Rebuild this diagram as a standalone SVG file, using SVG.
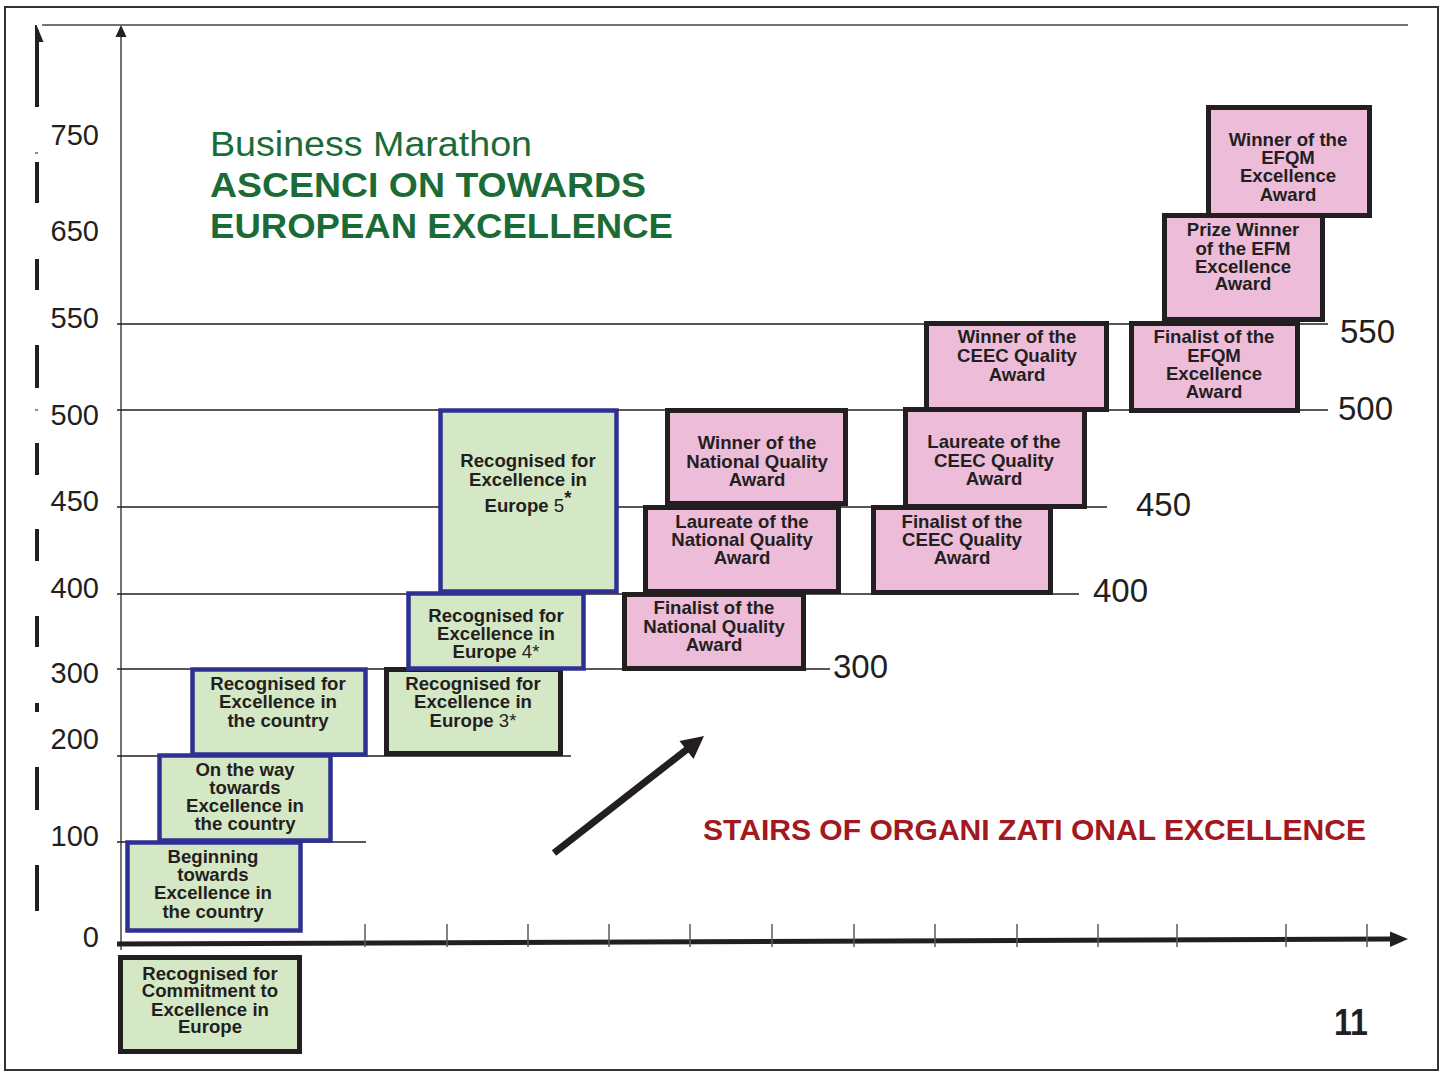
<svg xmlns="http://www.w3.org/2000/svg" width="1448" height="1072" viewBox="0 0 1448 1072">
<style>
.bx{font-family:"Liberation Sans",Arial,sans-serif;font-weight:bold;font-size:18.6px;fill:#231F20;text-anchor:middle}
.rg{font-weight:normal}
.ax{font-family:"Liberation Sans",Arial,sans-serif;font-size:29px;fill:#231F20}
.axr{font-size:33px}
.axl{text-anchor:end}
.grn{fill:#D5E8C6}
.pnk{fill:#ECBCD9}
.blue{stroke:#2E3192;stroke-width:4.5}
.blk{stroke:#231F20;stroke-width:5}
.grid{stroke:#231F20;stroke-width:1.5;fill:none}
.tick{stroke:#5A5A5A;stroke-width:1.5}
.dash{stroke:#231F20;stroke-width:4}
.ttl{font-family:"Liberation Sans",Arial,sans-serif;fill:#1B6B37}
</style>
<rect x="0" y="0" width="1448" height="1072" fill="#FFFFFF"/>
<rect x="5" y="7" width="1433" height="1063" fill="none" stroke="#333333" stroke-width="2"/>

<g id="axes">
  <line x1="42" y1="25" x2="1408" y2="25" stroke="#444444" stroke-width="1.5"/>
  <line x1="121" y1="35" x2="121" y2="950" stroke="#444444" stroke-width="1.5"/>
  <polygon points="121,25 115.5,37 126.5,37" fill="#231F20"/>
  <polygon points="35,25 36.5,25 43.5,42 35,42" fill="#231F20"/>
  <line class="dash" x1="37" y1="30" x2="37" y2="107"/>
  <line class="dash" x1="37" y1="162" x2="37" y2="203"/>
  <line class="dash" x1="37" y1="259" x2="37" y2="290"/>
  <line class="dash" x1="37" y1="345" x2="37" y2="388"/>
  <line class="dash" x1="37" y1="443" x2="37" y2="475"/>
  <line class="dash" x1="37" y1="529" x2="37" y2="561"/>
  <line class="dash" x1="37" y1="616" x2="37" y2="647"/>
  <line class="dash" x1="37" y1="703" x2="37" y2="712"/>
  <line class="dash" x1="37" y1="767" x2="37" y2="810"/>
  <line class="dash" x1="37" y1="865" x2="37" y2="911"/>
  <line x1="35" y1="153" x2="38" y2="153" stroke="#231F20" stroke-width="1"/>
  <line x1="35" y1="410" x2="38" y2="410" stroke="#231F20" stroke-width="1"/>
  <line class="grid" x1="117" y1="324" x2="1328" y2="324"/>
  <line class="grid" x1="117" y1="410" x2="1328" y2="410"/>
  <line class="grid" x1="117" y1="507" x2="1107" y2="507"/>
  <line class="grid" x1="117" y1="594" x2="1079" y2="594"/>
  <line class="grid" x1="117" y1="669" x2="830" y2="669"/>
  <line class="grid" x1="117" y1="756" x2="571" y2="756"/>
  <line class="grid" x1="117" y1="842" x2="366" y2="842"/>
  <line x1="117" y1="944" x2="1392" y2="939" stroke="#231F20" stroke-width="5"/>
  <polygon points="1390,931.5 1408,939 1390,947" fill="#231F20"/>
  <g class="tick">
    <line x1="365" y1="924" x2="365" y2="947"/>
    <line x1="447" y1="924" x2="447" y2="947"/>
    <line x1="528" y1="924" x2="528" y2="947"/>
    <line x1="609" y1="924" x2="609" y2="947"/>
    <line x1="690" y1="924" x2="690" y2="947"/>
    <line x1="772" y1="924" x2="772" y2="947"/>
    <line x1="854" y1="924" x2="854" y2="947"/>
    <line x1="935" y1="924" x2="935" y2="947"/>
    <line x1="1017" y1="924" x2="1017" y2="947"/>
    <line x1="1098" y1="924" x2="1098" y2="947"/>
    <line x1="1177" y1="924" x2="1177" y2="947"/>
    <line x1="1286" y1="924" x2="1286" y2="947"/>
    <line x1="1367" y1="924" x2="1367" y2="947"/>
  </g>
  <text class="ax axl" x="99" y="145">750</text>
  <text class="ax axl" x="99" y="241">650</text>
  <text class="ax axl" x="99" y="328">550</text>
  <text class="ax axl" x="99" y="425">500</text>
  <text class="ax axl" x="99" y="511">450</text>
  <text class="ax axl" x="99" y="598">400</text>
  <text class="ax axl" x="99" y="683">300</text>
  <text class="ax axl" x="99" y="749">200</text>
  <text class="ax axl" x="99" y="846">100</text>
  <text class="ax axl" x="99" y="947">0</text>
  <text class="ax axr" x="1340" y="343">550</text>
  <text class="ax axr" x="1338" y="420">500</text>
  <text class="ax axr" x="1136" y="516">450</text>
  <text class="ax axr" x="1093" y="602">400</text>
  <text class="ax axr" x="833" y="678">300</text>
</g>

<g id="title">
  <text class="ttl" x="210" y="156" font-size="35" textLength="322" lengthAdjust="spacingAndGlyphs">Business Marathon</text>
  <text class="ttl" x="210" y="197" font-size="35" font-weight="bold" textLength="436" lengthAdjust="spacingAndGlyphs">ASCENCI ON TOWARDS</text>
  <text class="ttl" x="210" y="238" font-size="35" font-weight="bold" textLength="463" lengthAdjust="spacingAndGlyphs">EUROPEAN EXCELLENCE</text>
</g>

<g id="n-beginning">
  <rect class="grn blue" x="127.5" y="842.5" width="173" height="88"/>
  <text class="bx"><tspan x="213" y="863">Beginning</tspan><tspan x="213" y="881">towards</tspan><tspan x="213" y="899">Excellence in</tspan><tspan x="213" y="918">the country</tspan></text>
</g>
<g id="n-ontheway">
  <rect class="grn blue" x="159.5" y="755.5" width="171" height="85"/>
  <text class="bx"><tspan x="245" y="776">On the way</tspan><tspan x="245" y="794">towards</tspan><tspan x="245" y="812">Excellence in</tspan><tspan x="245" y="830">the country</tspan></text>
</g>
<g id="n-rec-country">
  <rect class="grn blue" x="192.5" y="669.5" width="173" height="85"/>
  <text class="bx"><tspan x="278" y="690">Recognised for</tspan><tspan x="278" y="708">Excellence in</tspan><tspan x="278" y="727">the country</tspan></text>
</g>
<g id="n-commitment">
  <rect class="grn blk" x="120.5" y="957.5" width="179" height="94"/>
  <text class="bx"><tspan x="210" y="980">Recognised for</tspan><tspan x="210" y="997">Commitment to</tspan><tspan x="210" y="1016">Excellence in</tspan><tspan x="210" y="1033">Europe</tspan></text>
</g>
<g id="n-europe3">
  <rect class="grn blk" x="386.5" y="669.5" width="174" height="84"/>
  <text class="bx"><tspan x="473" y="690">Recognised for</tspan><tspan x="473" y="708">Excellence in</tspan><tspan x="473" y="727">Europe<tspan class="rg"> 3*</tspan></tspan></text>
</g>
<g id="n-europe4">
  <rect class="grn blue" x="408.5" y="593.5" width="175" height="75"/>
  <text class="bx"><tspan x="496" y="622">Recognised for</tspan><tspan x="496" y="640">Excellence in</tspan><tspan x="496" y="658">Europe<tspan class="rg"> 4*</tspan></tspan></text>
</g>
<g id="n-europe5">
  <rect class="grn blue" x="440.5" y="410.5" width="176" height="181"/>
  <text class="bx"><tspan x="528" y="467">Recognised for</tspan><tspan x="528" y="486">Excellence in</tspan><tspan x="528" y="512">Europe<tspan class="rg"> 5</tspan><tspan dy="-8">*</tspan></tspan></text>
</g>
<g id="n-finalist-nqa">
  <rect class="pnk blk" x="624.5" y="594.5" width="179" height="74"/>
  <text class="bx"><tspan x="714" y="614">Finalist of the</tspan><tspan x="714" y="633">National Quality</tspan><tspan x="714" y="651">Award</tspan></text>
</g>
<g id="n-laureate-nqa">
  <rect class="pnk blk" x="645.5" y="507.5" width="193" height="84"/>
  <text class="bx"><tspan x="742" y="528">Laureate of the</tspan><tspan x="742" y="546">National Quality</tspan><tspan x="742" y="564">Award</tspan></text>
</g>
<g id="n-winner-nqa">
  <rect class="pnk blk" x="667.5" y="410.5" width="178" height="93"/>
  <text class="bx"><tspan x="757" y="449">Winner of the</tspan><tspan x="757" y="468">National Quality</tspan><tspan x="757" y="486">Award</tspan></text>
</g>
<g id="n-finalist-ceec">
  <rect class="pnk blk" x="873.5" y="507.5" width="177" height="85"/>
  <text class="bx"><tspan x="962" y="528">Finalist of the</tspan><tspan x="962" y="546">CEEC Quality</tspan><tspan x="962" y="564">Award</tspan></text>
</g>
<g id="n-laureate-ceec">
  <rect class="pnk blk" x="905.5" y="409.5" width="179" height="97"/>
  <text class="bx"><tspan x="994" y="448">Laureate of the</tspan><tspan x="994" y="467">CEEC Quality</tspan><tspan x="994" y="485">Award</tspan></text>
</g>
<g id="n-winner-ceec">
  <rect class="pnk blk" x="926.5" y="323.5" width="180" height="86"/>
  <text class="bx"><tspan x="1017" y="343">Winner of the</tspan><tspan x="1017" y="362">CEEC Quality</tspan><tspan x="1017" y="381">Award</tspan></text>
</g>
<g id="n-finalist-efqm">
  <rect class="pnk blk" x="1131.5" y="323.5" width="166" height="87"/>
  <text class="bx"><tspan x="1214" y="343">Finalist of the</tspan><tspan x="1214" y="362">EFQM</tspan><tspan x="1214" y="380">Excellence</tspan><tspan x="1214" y="398">Award</tspan></text>
</g>
<g id="n-prize-efm">
  <rect class="pnk blk" x="1164.5" y="215.5" width="158" height="104"/>
  <text class="bx"><tspan x="1243" y="236">Prize Winner</tspan><tspan x="1243" y="255">of the EFM</tspan><tspan x="1243" y="273">Excellence</tspan><tspan x="1243" y="290">Award</tspan></text>
</g>
<g id="n-winner-efqm">
  <rect class="pnk blk" x="1208.5" y="107.5" width="161" height="108"/>
  <text class="bx"><tspan x="1288" y="146">Winner of the</tspan><tspan x="1288" y="164">EFQM</tspan><tspan x="1288" y="182">Excellence</tspan><tspan x="1288" y="201">Award</tspan></text>
</g>

<g id="connectors">
  <line x1="554" y1="853" x2="690" y2="747" stroke="#231F20" stroke-width="7"/>
  <polygon points="704,736 679.5,741 693.5,759" fill="#231F20"/>
</g>

<g id="labels">
  <text x="703" y="840" font-family="'Liberation Sans',Arial,sans-serif" font-weight="bold" font-size="30" fill="#A3171F" textLength="663" lengthAdjust="spacingAndGlyphs">STAIRS OF ORGANI ZATI ONAL EXCELLENCE</text>
  <text x="1334" y="1035" font-family="'Liberation Sans',Arial,sans-serif" font-weight="bold" font-size="37" fill="#231F20" textLength="34" lengthAdjust="spacingAndGlyphs">11</text>
</g>
</svg>
